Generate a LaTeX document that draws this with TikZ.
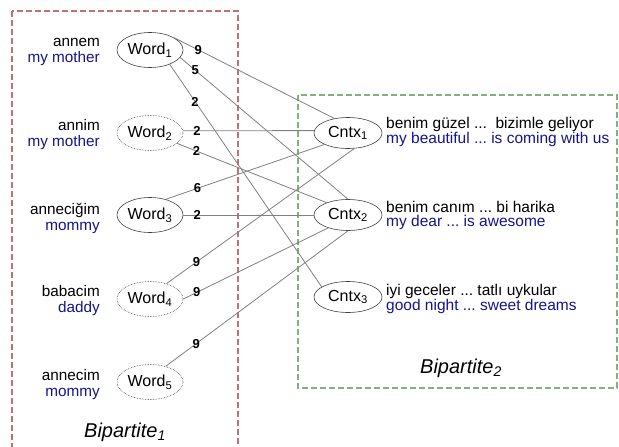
\documentclass[tikz,border=0pt]{standalone}
\usepackage{fontspec}
\setmainfont{Liberation Sans}
\usetikzlibrary{shapes.geometric}
\definecolor{navy}{RGB}{20,20,140}
\definecolor{boxred}{RGB}{196,112,112}
\definecolor{boxgreen}{RGB}{128,178,128}
\frenchspacing
\begin{document}
\begin{tikzpicture}[x=1pt,y=-1pt,
  wordn/.style={ellipse, draw=black!75, line width=0.6pt, minimum width=66pt, minimum height=35pt, inner sep=0pt, font=\fontsize{16}{16}\selectfont},
  dotn/.style={wordn, densely dotted},
  ctxn/.style={ellipse, draw=black!75, line width=0.6pt, minimum width=68pt, minimum height=31pt, inner sep=0pt, font=\fontsize{16}{16}\selectfont},
  edge/.style={draw=black!50, line width=0.8pt},
  wt/.style={font=\fontsize{13}{13}\selectfont\bfseries, inner sep=0pt},
  lab/.style={anchor=east, align=right, font=\fontsize{15.3}{16}\selectfont, inner sep=0pt},
  rlab/.style={anchor=west, align=left, font=\fontsize{15.5}{14}\selectfont, inner sep=0pt},
  part/.style={font=\fontsize{20}{20}\selectfont\itshape, inner sep=0pt},
  redbox/.style={draw=boxred, line width=1.5pt, dash pattern=on 6pt off 3pt},
  greenbox/.style={draw=boxgreen, line width=1.5pt, dash pattern=on 6pt off 3pt}
]
\useasboundingbox (0,0) rectangle (619,447);
\clip (0,0) rectangle (619,447);

% boxes
\draw[redbox] (12,11) rectangle (238,470);
\draw[greenbox] (298,95) rectangle (617,388);

% word nodes
\node[wordn] (w1) at (150,50) {Word\textsubscript{1}};
\node[dotn]  (w2) at (150,133) {Word\textsubscript{2}};
\node[wordn] (w3) at (150,215) {Word\textsubscript{3}};
\node[dotn]  (w4) at (150,299) {Word\textsubscript{4}};
\node[dotn]  (w5) at (150,382) {Word\textsubscript{5}};

% context nodes
\node[ctxn] (c1) at (348,133) {Cntx\textsubscript{1}};
\node[ctxn] (c2) at (348,215) {Cntx\textsubscript{2}};
\node[ctxn] (c3) at (348,297) {Cntx\textsubscript{3}};

% left labels
\node[lab] (l1) at (100,52) {annem\\\textcolor{navy}{my mother}};
\node[lab] (l2) at (100,135) {annim\\\textcolor{navy}{my mother}};
\node[lab] (l3) at (100,218) {anneciğim\\\textcolor{navy}{mommy}};
\node[lab] (l4) at (100,301) {babacim\\\textcolor{navy}{daddy}};
\node[lab] (l5) at (100,385) {annecim\\\textcolor{navy}{mommy}};

% right labels
\node[rlab] (r1) at (386,132) {benim güzel ...~\ bizimle geliyor\\\textcolor{navy}{my beautiful ... is coming with us}};
\node[rlab] (r2) at (386,215) {benim canım ... bi harika\\\textcolor{navy}{my dear ... is awesome}};
\node[rlab] (r3) at (386,299) {iyi geceler ... tatlı uykular\\\textcolor{navy}{good night ... sweet dreams}};

% partition titles
\node[part] (b1) at (125,432) {Bipartite\textsubscript{1}};
\node[part] (b2) at (461,368) {Bipartite\textsubscript{2}};

% edges
\draw[edge] (w1.27)  -- node[wt,pos=0.15]  {9} (c1.133);
\draw[edge] (w1.-14) -- node[wt,pos=0.09]  {5} (c2.north);
\draw[edge] (w1.-36) -- node[wt,pos=0.167] {2} (c3.159);
\draw[edge] (w2.4)   -- node[wt,pos=0.107] {2} (c1.176);
\draw[edge] (w2.-21) -- node[wt,pos=0.13]  {2} (c2.150);
\draw[edge] (w3.45)  -- node[wt,pos=0.2]   {6} (c1.206);
\draw[edge] (w3.east) -- node[wt,pos=0.107] {2} (c2.west);
\draw[edge] (w4.43)  -- node[wt,pos=0.16]  {9} (c1.292);
\draw[edge] (w4.0)   -- node[wt,pos=0.092] {9} (c2.213);
\draw[edge] (w5.45)  -- node[wt,pos=0.167] {9} (c2.south);
\end{tikzpicture}
\end{document}
